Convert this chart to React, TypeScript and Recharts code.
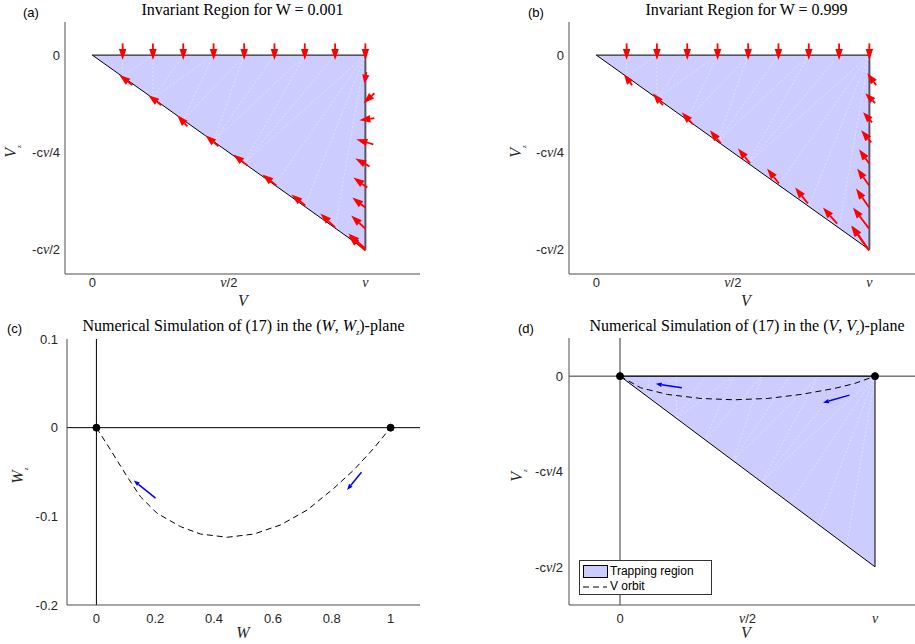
import React from "react";
import {
  ComposedChart,
  Area,
  Line,
  XAxis,
  YAxis,
  ReferenceLine,
} from "recharts";

// V is in units of nu, Vz in units of c*nu/4
const triangleBand = [
  { x: 0, band: [0, 0] },
  { x: 1, band: [-2, 0] },
];
const topEdge = [{ x: 0, y: 0 }, { x: 1, y: 0 }];
const hypEdge = [{ x: 0, y: 0 }, { x: 1, y: -2 }];
const rightEdge = [{ x: 1, y: 0 }, { x: 1, y: -2 }];

// faint patch triangulation seams: [x on top edge, x on hypotenuse]
const meshSeams = [
  [0.111, 0.111], [0.222, 0.111], [0.222, 0.222], [0.333, 0.222], [0.444, 0.222],
  [0.444, 0.333], [0.556, 0.333], [0.556, 0.444], [0.667, 0.444], [0.778, 0.444],
  [0.778, 0.556], [0.889, 0.556], [1, 0.556], [1, 0.667], [1, 0.778], [1, 0.889],
];

const vTicks = [0, 0.5, 1];
const vTickLabels = ["0", "ν/2", "ν"];
const vzTicks = [-2, -1, 0];
const vzTickLabels = ["-cν/2", "-cν/4", "0"];
const wTicks = [0, 0.2, 0.4, 0.6, 0.8, 1];
const wTickLabels = ["0", "0.2", "0.4", "0.6", "0.8", "1"];
const wzTicks = [-0.2, -0.1, 0, 0.1];
const wzTickLabels = ["-0.2", "-0.1", "0", "0.1"];

// quiver arrows: [tailX, tailY, tipX, tipY]
const topArrowX = [0.111, 0.222, 0.333, 0.444, 0.556, 0.667, 0.778, 0.889, 1.0];
const hypArrowsA = [
  [0.147, -0.309, 0.099, -0.206],
  [0.253, -0.515, 0.205, -0.412],
  [0.348, -0.732, 0.311, -0.619],
  [0.462, -0.938, 0.414, -0.825],
  [0.568, -1.134, 0.516, -1.021],
  [0.674, -1.34, 0.623, -1.227],
  [0.78, -1.546, 0.729, -1.433],
  [0.89, -1.773, 0.835, -1.629],
  [1.0, -1.99, 0.938, -1.835],
];
const rightArrowsA = [
  [1.004, -0.175, 0.996, -0.289],
  [1.033, -0.392, 0.993, -0.495],
  [1.033, -0.649, 0.978, -0.67],
  [1.029, -0.918, 0.967, -0.866],
  [1.015, -1.144, 0.963, -1.062],
  [1.007, -1.361, 0.956, -1.258],
  [1.0, -1.567, 0.952, -1.464],
  [1.0, -1.784, 0.948, -1.649],
  [1.0, -2.01, 0.938, -1.856],
];
const hypArrowsB = [
  [0.131, -0.309, 0.101, -0.196],
  [0.244, -0.515, 0.207, -0.392],
  [0.354, -0.711, 0.313, -0.588],
  [0.456, -0.907, 0.416, -0.773],
  [0.563, -1.113, 0.519, -0.959],
  [0.669, -1.32, 0.625, -1.165],
  [0.775, -1.526, 0.728, -1.361],
  [0.882, -1.732, 0.83, -1.567],
  [0.995, -1.99, 0.936, -1.753],
];
const rightArrowsB = [
  [1.025, -0.309, 0.992, -0.186],
  [1.021, -0.495, 0.985, -0.392],
  [1.01, -0.691, 0.977, -0.588],
  [1.007, -0.897, 0.97, -0.773],
  [0.999, -1.113, 0.962, -0.969],
  [0.999, -1.34, 0.955, -1.165],
  [0.999, -1.567, 0.951, -1.371],
  [0.999, -1.784, 0.94, -1.567],
  [0.999, -2.01, 0.933, -1.753],
];

// numerical orbit, (W, Wz)
const orbitW = [
  { x: 0, y: 0 },
  { x: 0.048, y: -0.025 },
  { x: 0.104, y: -0.055 },
  { x: 0.15, y: -0.078 },
  { x: 0.206, y: -0.0965 },
  { x: 0.286, y: -0.1116 },
  { x: 0.354, y: -0.12 },
  { x: 0.445, y: -0.1236 },
  { x: 0.535, y: -0.12 },
  { x: 0.626, y: -0.1097 },
  { x: 0.717, y: -0.0928 },
  { x: 0.807, y: -0.0684 },
  { x: 0.875, y: -0.0477 },
  { x: 0.943, y: -0.0232 },
  { x: 1, y: 0 },
];
// numerical orbit, (V, Vz)
const orbitV = [
  { x: 0, y: 0 },
  { x: 0.081, y: -0.122 },
  { x: 0.186, y: -0.192 },
  { x: 0.317, y: -0.234 },
  { x: 0.448, y: -0.248 },
  { x: 0.579, y: -0.234 },
  { x: 0.71, y: -0.192 },
  { x: 0.841, y: -0.129 },
  { x: 0.92, y: -0.077 },
  { x: 1, y: 0 },
];
const equilibria = [{ x: 0, y: 0 }, { x: 1, y: 0 }];
const flowArrowsW = [
  [0.201, -0.0795, 0.127, -0.0597],
  [0.901, -0.0503, 0.852, -0.0702],
];
const flowArrowsV = [
  [0.2425, -0.122, 0.14, -0.08],
  [0.9, -0.199, 0.796, -0.279],
];

const AXIS = "#4d4d4d";
const serif = "'Liberation Serif', 'Times New Roman', serif";
const sans = "'Liberation Sans', Arial, sans-serif";

// tick label with the greek nu drawn in italic serif, like the TeX interpreter
const makeTick = (ticks: number[], labels: string[], vertical: boolean) => (p: any) => {
  const { x, y, payload, textAnchor } = p;
  const i = ticks.indexOf(payload.value);
  const label = i >= 0 ? labels[i] : String(payload.value);
  const parts = label.split("ν");
  return (
    <text
      x={x}
      y={y}
      dy={vertical ? "0.36em" : "0.75em"}
      textAnchor={textAnchor}
      fontSize={13}
      fill="#262626"
      fontFamily={sans}
    >
      {parts.map((s, j) => (
        <React.Fragment key={j}>
          {j > 0 && (
            <tspan fontFamily={serif} fontStyle="italic" fontSize={14}>
              ν
            </tspan>
          )}
          {s && <tspan>{s}</tspan>}
        </React.Fragment>
      ))}
    </text>
  );
};

const arrowShape = (color: string, head: number, width: number, sw: number) => (p: any) => {
  const { x1, y1, x2, y2 } = p;
  const dx = x2 - x1;
  const dy = y2 - y1;
  const len = Math.hypot(dx, dy) || 1;
  const ux = dx / len;
  const uy = dy / len;
  const h = Math.min(head, len * 0.75);
  const bx = x2 - ux * h;
  const by = y2 - uy * h;
  const nx = (-uy * width) / 2;
  const ny = (ux * width) / 2;
  return (
    <g>
      <line x1={x1} y1={y1} x2={bx} y2={by} stroke={color} strokeWidth={sw} />
      <polygon points={`${x2},${y2} ${bx + nx},${by + ny} ${bx - nx},${by - ny}`} fill={color} />
    </g>
  );
};
const redArrow = arrowShape("#ff0000", 11, 7.5, 1.8);
const blueArrow = arrowShape("#0000ff", 6, 4.5, 1.5);

const seg = (a: number[]) => [{ x: a[0], y: a[1] }, { x: a[2], y: a[3] }];

const seams = () =>
  meshSeams.map((s, i) => (
    <ReferenceLine
      key={"m" + i}
      segment={[{ x: s[0], y: 0 }, { x: s[1], y: -2 * s[1] }]}
      stroke="#ffffff"
      strokeOpacity={0.55}
      strokeWidth={0.7}
      strokeDasharray="2 2"
      ifOverflow="visible"
    />
  ));

const edgeLines = (rightColor: string, rightWidth: number) => [
  <ReferenceLine key="e1" segment={topEdge} stroke="#000" strokeWidth={1} ifOverflow="visible" />,
  <ReferenceLine key="e2" segment={hypEdge} stroke="#000" strokeWidth={1} ifOverflow="visible" />,
  <ReferenceLine key="e3" segment={rightEdge} stroke={rightColor} strokeWidth={rightWidth} ifOverflow="visible" />,
];

const TrianglePanel = ({ yWidth, hyp, right }: { yWidth: number; hyp: number[][]; right: number[][] }) => (
  <ComposedChart width={yWidth + 355} height={310} data={triangleBand} margin={{ top: 22, right: 0, bottom: 0, left: 0 }}>
    <XAxis
      type="number"
      dataKey="x"
      domain={[-0.1, 1.2]}
      ticks={vTicks}
      allowDataOverflow
      height={36}
      tickLine={false}
      tickSize={1}
      tickMargin={2}
      axisLine={{ stroke: AXIS }}
      tick={makeTick(vTicks, vTickLabels, false)}
    />
    <YAxis
      type="number"
      domain={[-2.25, 0.34]}
      ticks={vzTicks}
      allowDataOverflow
      width={yWidth}
      tickLine={false}
      tickSize={1}
      tickMargin={4}
      axisLine={{ stroke: AXIS }}
      tick={makeTick(vzTicks, vzTickLabels, true)}
    />
    <Area dataKey="band" type="linear" fill="#ccccff" fillOpacity={1} stroke="none" isAnimationActive={false} />
    {seams()}
    {edgeLines("#555566", 2)}
    {topArrowX.map((x, i) => (
      <ReferenceLine key={"t" + i} segment={seg([x, 0.12, x, -0.05])} shape={redArrow} ifOverflow="visible" />
    ))}
    {hyp.map((a, i) => (
      <ReferenceLine key={"h" + i} segment={seg(a)} shape={redArrow} ifOverflow="visible" />
    ))}
    {right.map((a, i) => (
      <ReferenceLine key={"r" + i} segment={seg(a)} shape={redArrow} ifOverflow="visible" />
    ))}
  </ComposedChart>
);

const Title = ({ left, top, width, children }: any) => (
  <div style={{ position: "absolute", left, top, width, textAlign: "center", fontFamily: serif, fontSize: 16, lineHeight: "18px", color: "#000", whiteSpace: "nowrap" }}>
    {children}
  </div>
);
const Tag = ({ left, top, text }: any) => (
  <div style={{ position: "absolute", left, top, fontFamily: sans, fontSize: 13, lineHeight: "16px", color: "#000" }}>{text}</div>
);
const XLabel = ({ cx, cy, children }: any) => (
  <div style={{ position: "absolute", left: cx - 30, top: cy - 9, width: 60, textAlign: "center", fontFamily: serif, fontStyle: "italic", fontSize: 16, lineHeight: "18px", color: "#262626" }}>
    {children}
  </div>
);
const YLabel = ({ cx, cy, letter }: any) => (
  <div style={{ position: "absolute", left: cx - 30, top: cy - 9, width: 60, textAlign: "center", transform: "rotate(-90deg)", fontFamily: serif, fontSize: 16, lineHeight: "18px", color: "#262626" }}>
    <i>{letter}</i>
    <sub style={{ fontSize: 7, fontStyle: "italic" }}>z</sub>
  </div>
);

export default function App() {
  return (
    <div style={{ position: "absolute", left: 0, top: 0, width: 915, height: 644, overflow: "hidden", background: "#fff" }}>
      {/* (a) */}
      <div style={{ position: "absolute", left: 0, top: 0 }}>
        <TrianglePanel yWidth={65} hyp={hypArrowsA} right={rightArrowsA} />
      </div>
      <Title left={65} top={1} width={355}>Invariant Region for W = 0.001</Title>
      <Tag left={23} top={5} text="(a)" />
      <XLabel cx={243} cy={301}>V</XLabel>
      <YLabel cx={15} cy={148} letter="V" />

      {/* (b) */}
      <div style={{ position: "absolute", left: 500, top: 0 }}>
        <TrianglePanel yWidth={69} hyp={hypArrowsB} right={rightArrowsB} />
      </div>
      <Title left={569} top={1} width={355}>Invariant Region for W = 0.999</Title>
      <Tag left={528} top={5} text="(b)" />
      <XLabel cx={746} cy={301}>V</XLabel>
      <YLabel cx={520} cy={148} letter="V" />

      {/* (c) */}
      <div style={{ position: "absolute", left: 0, top: 310 }}>
        <ComposedChart width={420} height={334} margin={{ top: 29, right: 0, bottom: 0, left: 0 }}>
          <XAxis
            type="number"
            dataKey="x"
            domain={[-0.1, 1.1]}
            ticks={wTicks}
            allowDataOverflow
            height={39}
            tickLine={false}
            tickSize={4}
            tickMargin={4}
            axisLine={{ stroke: AXIS }}
            tick={makeTick(wTicks, wTickLabels, false)}
          />
          <YAxis
            type="number"
            domain={[-0.2, 0.1]}
            ticks={wzTicks}
            allowDataOverflow
            width={67}
            tickLine={false}
            tickSize={4}
            tickMargin={5}
            axisLine={{ stroke: AXIS }}
            tick={makeTick(wzTicks, wzTickLabels, true)}
          />
          <ReferenceLine x={0} stroke="#000" strokeWidth={1} />
          <ReferenceLine y={0} stroke="#000" strokeWidth={1} />
          <Line data={orbitW} dataKey="y" type="linear" stroke="#000" strokeWidth={1} strokeDasharray="6 4" dot={false} isAnimationActive={false} />
          <Line data={equilibria} dataKey="y" stroke="none" dot={{ r: 3.5, fill: "#000", stroke: "#000" }} isAnimationActive={false} />
          {flowArrowsW.map((a, i) => (
            <ReferenceLine key={"b" + i} segment={seg(a)} shape={blueArrow} ifOverflow="visible" />
          ))}
        </ComposedChart>
      </div>
      <Title left={67} top={317} width={353}>
        Numerical Simulation of (17) in the (<i>W</i>, <i>W</i>
        <sub style={{ fontSize: 8 }}><i>z</i></sub>)-plane
      </Title>
      <Tag left={7} top={321} text="(c)" />
      <XLabel cx={243} cy={633}>W</XLabel>
      <YLabel cx={22} cy={472} letter="W" />

      {/* (d) */}
      <div style={{ position: "absolute", left: 500, top: 310 }}>
        <ComposedChart width={426} height={334} data={triangleBand} margin={{ top: 28, right: 0, bottom: 0, left: 0 }}>
          <XAxis
            type="number"
            dataKey="x"
            domain={[-0.2, 1.2]}
            ticks={vTicks}
            allowDataOverflow
            height={39}
            tickLine={false}
            tickSize={4}
            tickMargin={4}
            axisLine={{ stroke: AXIS }}
            tick={makeTick(vTicks, vTickLabels, false)}
          />
          <YAxis
            type="number"
            domain={[-2.4, 0.4]}
            ticks={vzTicks}
            allowDataOverflow
            width={69}
            tickLine={false}
            tickSize={3}
            tickMargin={3}
            axisLine={{ stroke: AXIS }}
            tick={makeTick(vzTicks, vzTickLabels, true)}
          />
          <Area dataKey="band" type="linear" fill="#ccccff" fillOpacity={1} stroke="none" isAnimationActive={false} />
          {seams()}
          <ReferenceLine x={0} stroke="#555" strokeWidth={1.2} />
          <ReferenceLine y={0} stroke="#333" strokeWidth={1} />
          {edgeLines("#000", 1)}
          <Line data={orbitV} dataKey="y" type="linear" stroke="#000" strokeWidth={1} strokeDasharray="6 4" dot={false} isAnimationActive={false} />
          <Line data={equilibria} dataKey="y" stroke="none" dot={{ r: 3.5, fill: "#000", stroke: "#000" }} isAnimationActive={false} />
          {flowArrowsV.map((a, i) => (
            <ReferenceLine key={"b" + i} segment={seg(a)} shape={blueArrow} ifOverflow="visible" />
          ))}
        </ComposedChart>
      </div>
      <Title left={569} top={317} width={356}>
        Numerical Simulation of (17) in the (<i>V</i>, <i>V</i>
        <sub style={{ fontSize: 8 }}><i>z</i></sub>)-plane
      </Title>
      <Tag left={518} top={321} text="(d)" />
      <XLabel cx={746} cy={633}>V</XLabel>
      <YLabel cx={521} cy={472} letter="V" />

      {/* legend (d) */}
      <div style={{ position: "absolute", left: 579, top: 560, width: 131, height: 33, border: "1px solid #333", background: "#fff", fontFamily: sans, fontSize: 12, color: "#000" }}>
        <div style={{ position: "absolute", left: 3, top: 4, width: 23, height: 11, background: "#ccccff", border: "1px solid #000" }} />
        <div style={{ position: "absolute", left: 30, top: 3, lineHeight: "14px" }}>Trapping region</div>
        <svg style={{ position: "absolute", left: 3, top: 24 }} width={24} height={4}>
          <line x1={0} y1={2} x2={24} y2={2} stroke="#000" strokeDasharray="6 4" />
        </svg>
        <div style={{ position: "absolute", left: 30, top: 18, lineHeight: "14px" }}>V orbit</div>
      </div>
    </div>
  );
}
